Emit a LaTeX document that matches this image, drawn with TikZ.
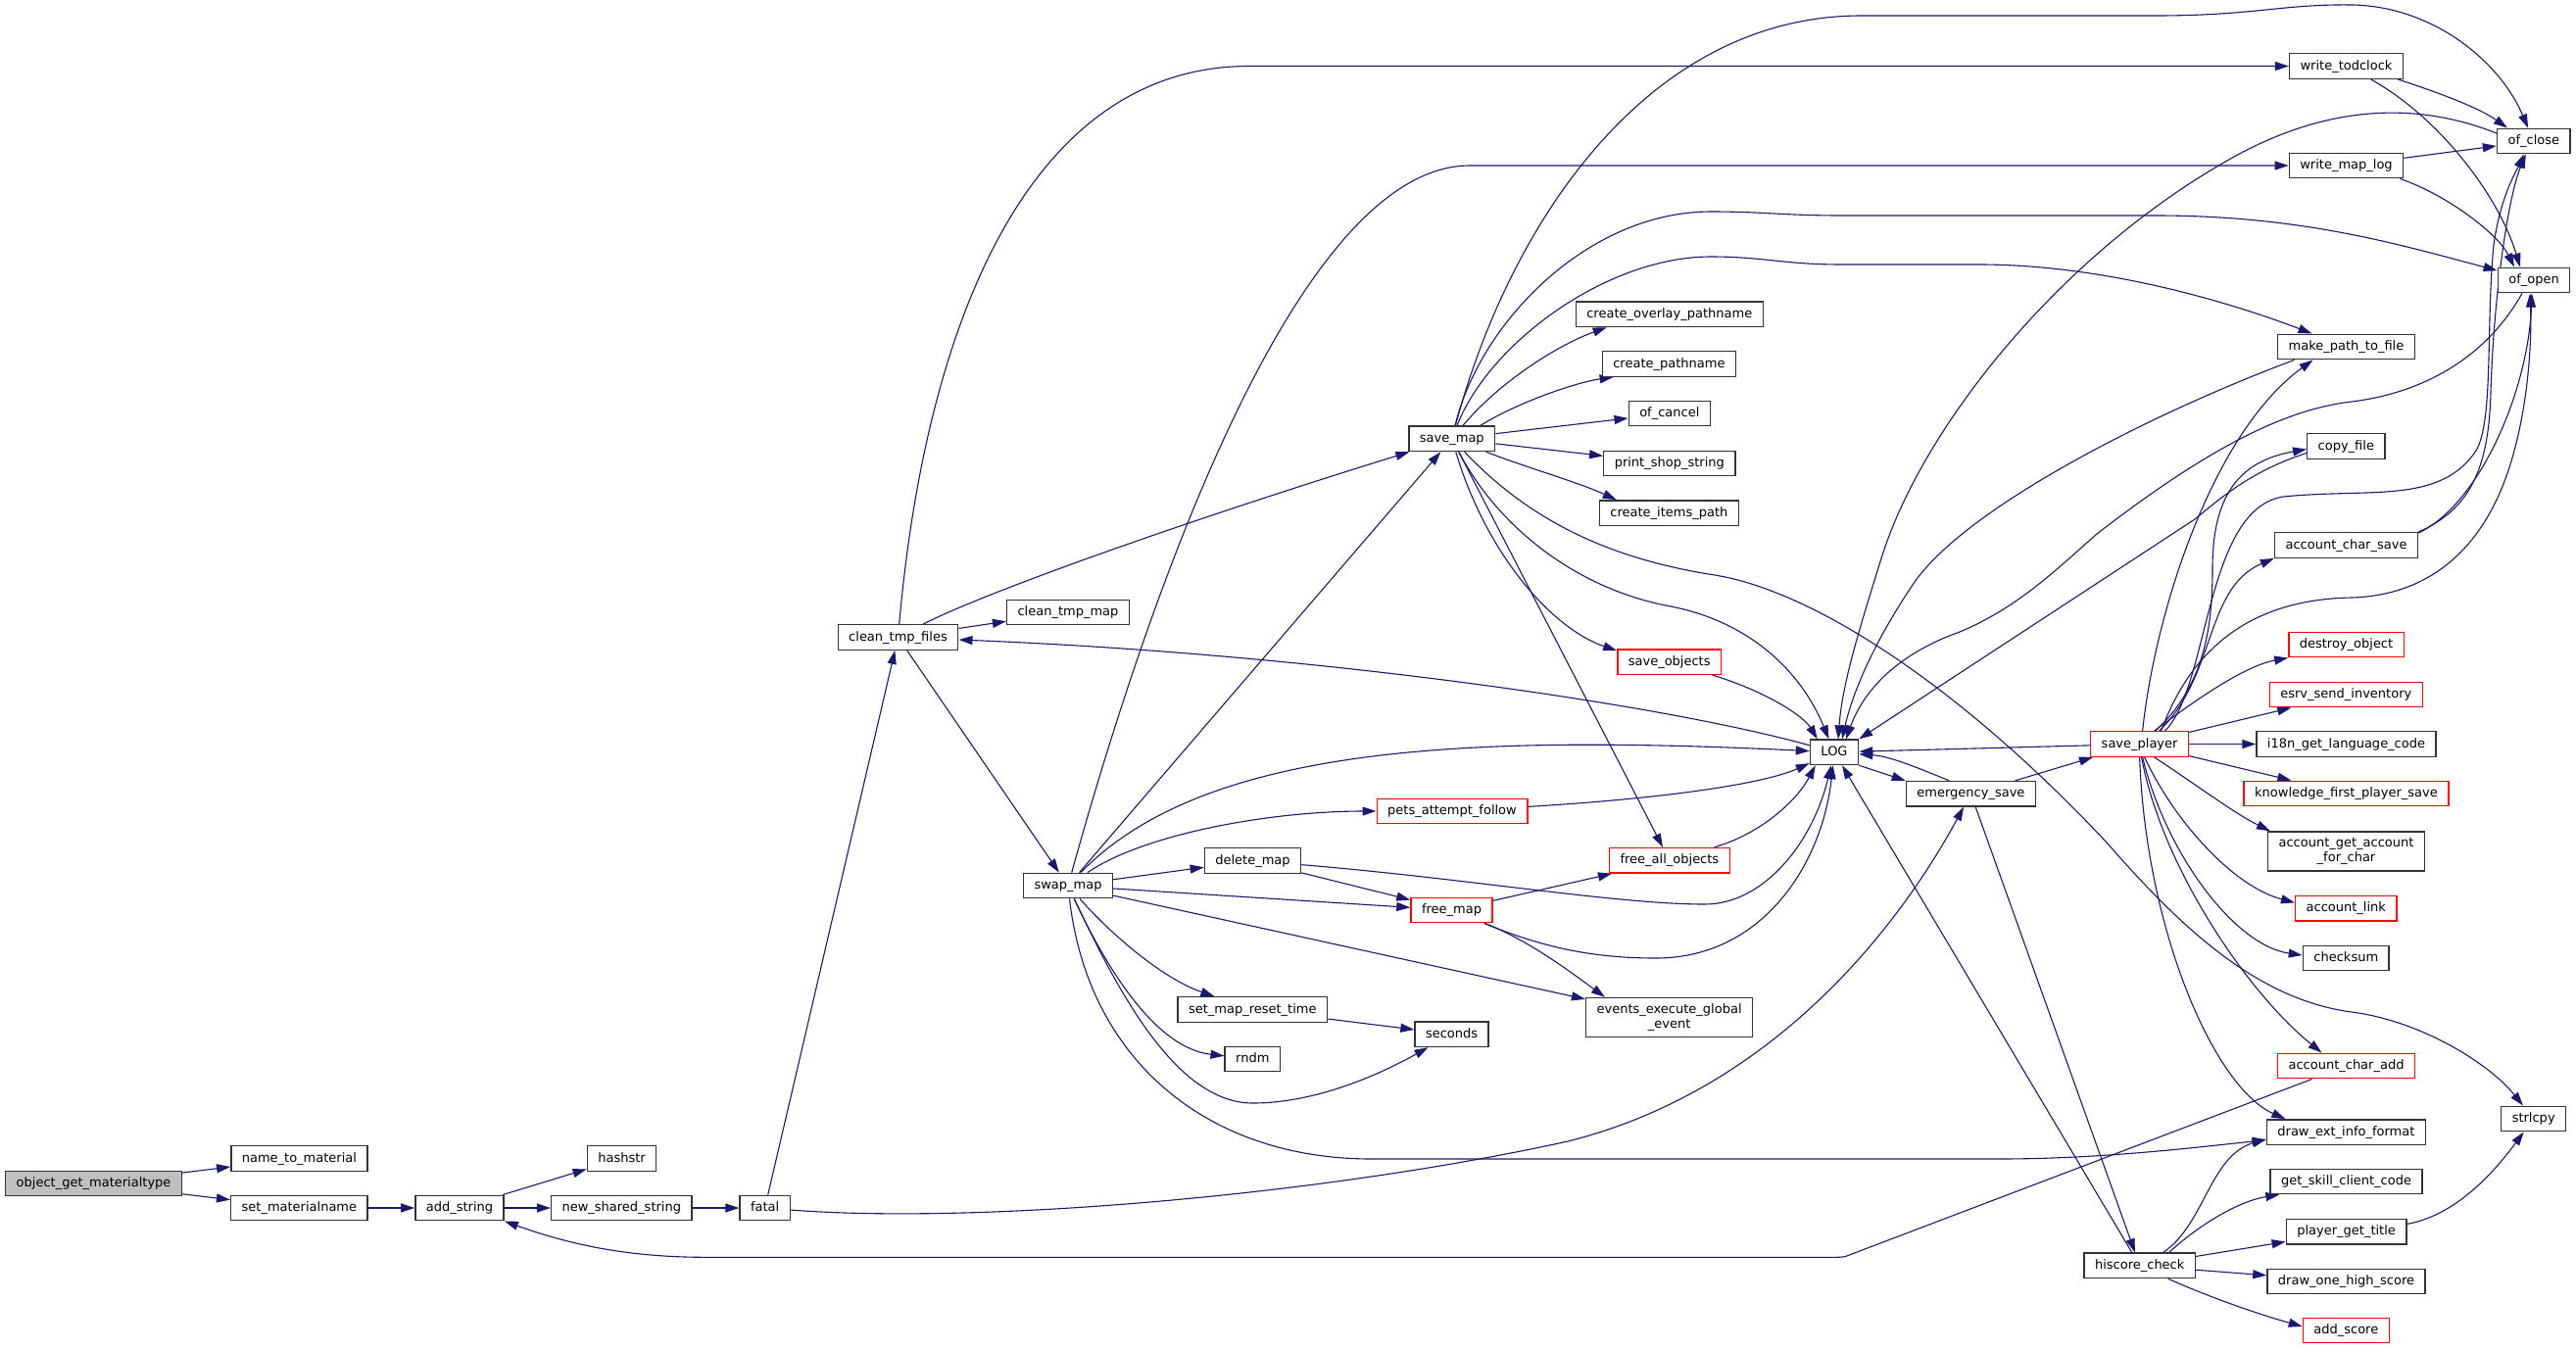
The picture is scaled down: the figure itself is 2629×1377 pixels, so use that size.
\documentclass[tikz,border=0pt]{standalone}
\usepackage{fontspec}
\setmainfont{DejaVu Sans}
\usetikzlibrary{arrows.meta}
\pgfdeclarelayer{bg}
\pgfsetlayers{bg,main}
\definecolor{edgec}{HTML}{191970}
\definecolor{boxc}{HTML}{333333}
\definecolor{rootc}{HTML}{BFBFBF}
\newcommand\nodefont{\fontsize{13}{15}\selectfont}
\tikzset{
  box/.style={draw=boxc, line width=1.4pt, fill=white, inner xsep=11pt, inner ysep=0pt,
    minimum height=25.5pt, text height=10pt, text depth=3pt, font=\nodefont},
  rbox/.style={box, draw=red},
  tbox/.style={draw=boxc, line width=1.4pt, fill=white, inner xsep=11pt, inner ysep=2pt,
    minimum height=40pt, align=center, font=\nodefont},
  rootbox/.style={box, fill=rootc},
  edge/.style={draw=edgec, line width=1.1pt, -{Triangle[length=14pt,width=9pt]}},
}
\begin{document}
\begin{tikzpicture}[x=1pt,y=-1pt]
\useasboundingbox (0,0) rectangle (2629,1377);
% nodes
\node[rootbox] (root) at (95.6,1208) {object\_get\_materialtype};
\node[box] (n2m) at (305.4,1182.5) {name\_to\_material};
\node[box] (setmn) at (305.4,1233) {set\_materialname};
\node[box] (adds) at (469,1233) {add\_string};
\node[box] (hashstr) at (634.5,1182.5) {hashstr};
\node[box] (nss) at (634.3,1233) {new\_shared\_string};
\node[box] (fatal) at (780.6,1233) {fatal};
\node[box] (ctf) at (916.5,650.5) {clean\_tmp\_files};
\node[box] (ctm) at (1090,625) {clean\_tmp\_map};
\node[box] (swap) at (1090,904) {swap\_map};
\node[box] (savemap) at (1481.8,447.8) {save\_map};
\node[box] (delmap) at (1278.5,878.5) {delete\_map};
\node[box] (smrt) at (1278.3,1030.5) {set\_map\_reset\_time};
\node[box] (rndm) at (1278.3,1081) {rndm};
\node[rbox] (pets) at (1482,828) {pets\_attempt\_follow};
\node[rbox] (freemap) at (1481.5,929) {free\_map};
\node[box] (seconds) at (1481.6,1055.7) {seconds};
\node[box] (cop) at (1703.8,320.8) {create\_overlay\_pathname};
\node[box] (cp) at (1703.4,371.5) {create\_pathname};
\node[box] (ofcancel) at (1703.8,422) {of\_cancel};
\node[box] (pss) at (1703.8,473) {print\_shop\_string};
\node[box] (cip) at (1703.4,523.6) {create\_items\_path};
\node[rbox] (saveobj) at (1703.7,675.7) {save\_objects};
\node[rbox] (fao) at (1703.9,878.3) {free\_all\_objects};
\node[tbox] (eeg) at (1703.6,1038.5) {events\_execute\_global\\\_event};
\node[box] (LOG) at (1872,767.8) {LOG};
\node[box] (es) at (2011.4,810.3) {emergency\_save};
\node[rbox] (sp) at (2183.6,759.5) {save\_player};
\node[box] (hc) at (2183.7,1291.8) {hiscore\_check};
\node[box] (wtc) at (2394.5,67.5) {write\_todclock};
\node[box] (wml) at (2394.5,169) {write\_map\_log};
\node[box] (mptf) at (2394.5,354) {make\_path\_to\_file};
\node[box] (copyf) at (2394.3,455.5) {copy\_file};
\node[box] (acs) at (2394.5,556.5) {account\_char\_save};
\node[rbox] (destroy) at (2394.5,658) {destroy\_object};
\node[rbox] (esrv) at (2394.3,709) {esrv\_send\_inventory};
\node[box] (i18n) at (2394.5,759.5) {i18n\_get\_language\_code};
\node[rbox] (kfps) at (2394.5,810) {knowledge\_first\_player\_save};
\node[tbox] (agafc) at (2394.5,869) {account\_get\_account\\\_for\_char};
\node[rbox] (alink) at (2394.3,927.4) {account\_link};
\node[box] (checksum) at (2394.3,978) {checksum};
\node[rbox] (aca) at (2394.5,1088) {account\_char\_add};
\node[box] (deif) at (2394.4,1155.6) {draw\_ext\_info\_format};
\node[box] (gscc) at (2394.5,1206) {get\_skill\_client\_code};
\node[box] (pgt) at (2394.6,1257.4) {player\_get\_title};
\node[box] (dohs) at (2394.5,1308) {draw\_one\_high\_score};
\node[rbox] (addscore) at (2394.3,1358) {add\_score};
\node[box] (ofclose) at (2585.8,144) {of\_close};
\node[box] (ofopen) at (2586,286) {of\_open};
\node[box] (strlcpy) at (2585.7,1142) {strlcpy};
% edges
\begin{pgfonlayer}{bg}
\fill[white] (0,0) rectangle (2629,1377);
\draw[edge] (root) -- (n2m);
\draw[edge] (root) -- (setmn);
\draw[edge] (setmn) -- (adds);
\draw[edge] (adds) -- (hashstr);
\draw[edge] (adds) -- (nss);
\draw[edge] (nss) -- (fatal);
\draw[edge] (fatal) -- (ctf);
\draw[edge] (fatal) .. controls (1000,1250) and (1350,1220) .. (1600,1165) .. controls (1800,1115) and (1930,960) .. (es);
\draw[edge] (ctf) -- (ctm);
\draw[edge] (ctf) -- (swap);
\draw[edge] (ctf) .. controls (1000,607) and (1200,535) .. (savemap);
\draw[edge] (ctf) .. controls (945,330) and (1050,67.5) .. (1275,67.5) -- (wtc);
\draw[edge] (LOG) .. controls (1700,720) and (1350,668) .. (ctf);
\draw[edge] (swap) -- (savemap);
\draw[edge] (swap) .. controls (1180,580) and (1330,169) .. (1500,169) -- (wml);
\draw[edge] (swap) .. controls (1230,760) and (1500,750) .. (LOG);
\draw[edge] (swap) .. controls (1170,850) and (1300,828) .. (pets);
\draw[edge] (swap) -- (delmap);
\draw[edge] (swap) -- (freemap);
\draw[edge] (swap) -- (eeg);
\draw[edge] (swap) .. controls (1140,960) and (1190,1000) .. (smrt);
\draw[edge] (swap) .. controls (1130,990) and (1180,1070) .. (rndm);
\draw[edge] (swap) .. controls (1140,1010) and (1200,1126) .. (1278.5,1126) .. controls (1350,1126) and (1420,1090) .. (seconds);
\draw[edge] (swap) .. controls (1110,1080) and (1230,1183) .. (1400,1183) -- (2040,1183) .. controls (2150,1183) and (2250,1170) .. (deif);
\draw[edge] (smrt) -- (seconds);
% save_map
\draw[edge] (savemap) .. controls (1540,230) and (1680,16) .. (1900,16) -- (2200,16) .. controls (2300,16) and (2330,4) .. (2400,5) .. controls (2480,6) and (2550,60) .. (ofclose);
\draw[edge] (savemap) .. controls (1510,330) and (1620,216) .. (1746,216) .. controls (1800,216) and (1820,220) .. (1880,220) -- (2200,220) .. controls (2350,220) and (2450,250) .. (ofopen);
\draw[edge] (savemap) .. controls (1520,350) and (1640,262) .. (1746,262) .. controls (1800,262) and (1820,270) .. (1880,270) -- (2020,270) .. controls (2150,270) and (2280,310) .. (mptf);
\draw[edge] (savemap) .. controls (1530,390) and (1590,352) .. ([xshift=32pt]cop.south west);
\draw[edge] ([xshift=29pt]savemap.north) .. controls (1550,410) and (1610,390) .. ([xshift=12pt]cp.south west);
\draw[edge] (savemap) -- (ofcancel);
\draw[edge] (savemap) -- (pss);
\draw[edge] (savemap) .. controls (1560,478) and (1610,492) .. ([xshift=18pt]cip.north west);
\draw[edge] (savemap) .. controls (1515,560) and (1580,640) .. ([yshift=-2pt]saveobj.north west);
\draw[edge] (savemap) -- (fao);
\draw[edge] (savemap) .. controls (1530,540) and (1610,600) .. (1700,618) .. controls (1790,634) and (1840,690) .. (LOG);
\draw[edge] (savemap) .. controls (1560,530) and (1640,570) .. (1750,587) .. controls (1850,603) and (2000,700) .. (2150,860) .. controls (2220,940) and (2300,1020) .. (2400,1033) .. controls (2470,1042) and (2540,1085) .. (strlcpy);
% middle
\draw[edge] (pets) .. controls (1700,815) and (1800,800) .. (LOG);
\draw[edge] (delmap) -- (freemap);
\draw[edge] (delmap) .. controls (1500,897) and (1650,923) .. (1740,923) .. controls (1800,923) and (1850,860) .. (LOG);
\draw[edge] (freemap) .. controls (1570,965) and (1620,978) .. (1690,978) .. controls (1800,978) and (1860,880) .. (LOG);
\draw[edge] (freemap) -- (fao);
\draw[edge] (freemap) .. controls (1560,960) and (1600,990) .. ([xshift=20pt]eeg.north west);
\draw[edge] (fao) .. controls (1800,850) and (1835,815) .. ([xshift=6pt]LOG.south west);
\draw[edge] (saveobj) .. controls (1800,705) and (1840,730) .. ([xshift=8pt]LOG.north west);
\draw[edge] (LOG.south east) -- (es.north west);
\draw[edge] ([xshift=-22pt]es.north) .. controls (1960,785) and (1930,772) .. ([yshift=-2pt]LOG.east);
\draw[edge] ([xshift=45pt]es.north) -- ([xshift=3pt]sp.south west);
\draw[edge] (sp) -- (LOG);
\draw[edge] (es) -- (hc);
\draw[edge] (hc) -- (LOG);
% save_player
\draw[edge] ([xshift=3pt]sp.north) .. controls (2200,620) and (2260,440) .. ([xshift=-34pt]mptf.south);
\draw[edge] ([xshift=16pt]sp.north) .. controls (2250,700) and (2258,640) .. (2258,580) .. controls (2258,500) and (2290,470) .. ([yshift=-3pt]copyf.west);
\draw[edge] ([xshift=20pt]sp.north) .. controls (2262,690) and (2250,600) .. (acs.south west);
\draw[edge] ([xshift=22pt]sp.north) .. controls (2230,680) and (2280,612) .. (2400,610) .. controls (2470,608) and (2530,570) .. (2560,480) .. controls (2580,420) and (2584,350) .. ([xshift=-4pt]ofopen.south);
\draw[edge] ([xshift=26pt]sp.north) .. controls (2255,700) and (2250,520) .. (2330,507) .. controls (2420,498) and (2490,515) .. (2527,460) .. controls (2545,430) and (2537,330) .. (2545,250) .. controls (2552,200) and (2568,175) .. ([xshift=-10pt]ofclose.south);
\draw[edge] (acs.north east) .. controls (2520,520) and (2540,480) .. (2542,400) .. controls (2545,300) and (2560,200) .. ([xshift=-8pt]ofclose.south);
\draw[edge] ([yshift=-1pt]acs.north east) .. controls (2530,515) and (2580,400) .. ([xshift=-2pt]ofopen.south);
\draw[edge] ([xshift=15pt]sp.north) .. controls (2240,715) and (2290,680) .. (destroy.south west);
\draw[edge] (sp) -- (esrv);
\draw[edge] (sp) -- (i18n);
\draw[edge] (sp) -- (kfps);
\draw[edge] ([xshift=15pt]sp.south) .. controls (2240,800) and (2280,830) .. ([xshift=3pt]agafc.north west);
\draw[edge] ([xshift=5pt]sp.south) .. controls (2220,840) and (2280,905) .. ([yshift=6pt]alink.west);
\draw[edge] ([xshift=3pt]sp.south) .. controls (2210,870) and (2280,965) .. ([yshift=3pt]checksum.west);
\draw[edge] ([xshift=2pt]sp.south) .. controls (2205,880) and (2290,1010) .. ([xshift=-25pt]aca.north);
\draw[edge] (sp.south) .. controls (2190,950) and (2260,1110) .. ([xshift=-62pt]deif.north);
% into LOG from the right side column
\draw[edge] ([yshift=-7pt]copyf.west) .. controls (2300,480) and (2270,505) .. (2240,530) -- (LOG.north east);
\draw[edge] ([xshift=-53pt]mptf.south) .. controls (2200,420) and (2000,520) .. (1950,600) .. controls (1910,660) and (1890,710) .. ([xshift=8pt]LOG.north);
\draw[edge] ([yshift=8pt]ofclose.west) .. controls (2470,105) and (2380,105) .. (2280,160) .. controls (2100,260) and (1960,440) .. (1920,570) .. controls (1895,650) and (1880,700) .. ([xshift=4pt]LOG.north);
\draw[edge] ([xshift=-12pt]ofopen.south) .. controls (2540,360) and (2480,400) .. (2400,410) .. controls (2330,418) and (2250,460) .. (2140,545) .. controls (2100,580) and (2060,620) .. (2000,645) .. controls (1930,670) and (1900,710) .. ([xshift=12pt]LOG.north);
% write_* nodes
\draw[edge] ([xshift=-6pt]wtc.south east) .. controls (2490,95) and (2530,110) .. ([xshift=11pt]ofclose.north west);
\draw[edge] ([xshift=25pt]wtc.south) .. controls (2490,120) and (2550,200) .. ([xshift=-14pt]ofopen.north);
\draw[edge] (wml) -- (ofclose);
\draw[edge] ([xshift=-4pt]wml.south east) .. controls (2500,200) and (2550,240) .. ([xshift=-20pt]ofopen.north);
% hiscore_check
\draw[edge] ([xshift=24pt]hc.north) .. controls (2250,1250) and (2255,1180) .. ([yshift=-7pt]deif.west);
\draw[edge] ([xshift=30pt]hc.north) .. controls (2250,1245) and (2290,1225) .. ([xshift=10pt]gscc.south west);
\draw[edge] (hc) -- (pgt);
\draw[edge] (hc) -- (dohs);
\draw[edge] ([xshift=29pt]hc.south) .. controls (2250,1322) and (2300,1340) .. ([yshift=4pt]addscore.west);
\draw[edge] ([yshift=8pt]pgt.east) .. controls (2510,1240) and (2550,1190) .. ([xshift=-10pt]strlcpy.south);
\draw[edge] ([xshift=-35pt]aca.south) -- (1890,1280) .. controls (1882,1283.3) .. (1870,1283.3) -- (720,1283.3) .. controls (640,1283.3) and (580,1270) .. (adds.south east);
\end{pgfonlayer}
\end{tikzpicture}
\end{document}
